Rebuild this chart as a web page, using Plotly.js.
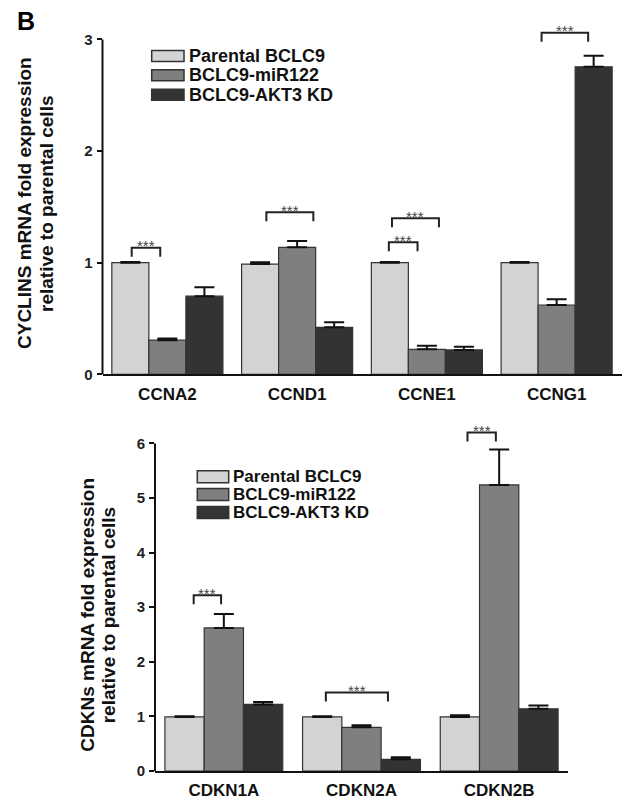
<!DOCTYPE html>
<html>
<head>
<meta charset="utf-8">
<script src="https://cdn.plot.ly/plotly-3.0.1.min.js"></script>
<style>html,body{margin:0;padding:0;background:#fff;}#chart{width:623px;height:801px;}</style>
</head>
<body>
<div id="chart"></div>
<script>
// ---------- data ----------
const seriesNames = ['Parental BCLC9', 'BCLC9-miR122', 'BCLC9-AKT3 KD'];

const categoriesTop = ['CCNA2', 'CCND1', 'CCNE1', 'CCNG1'];
const parentalTop = [1.0, 0.988, 1.0, 1.0];
const parentalTopErr = [0.006, 0.016, 0.006, 0.006];
const mirTop = [0.306, 1.138, 0.224, 0.621];
const mirTopErr = [0.014, 0.056, 0.032, 0.051];
const aktTop = [0.70, 0.421, 0.218, 2.756];
const aktTopErr = [0.08, 0.045, 0.029, 0.099];
const yTicksTop = [0, 1, 2, 3];

const categoriesBottom = ['CDKN1A', 'CDKN2A', 'CDKN2B'];
const parentalBottom = [0.99, 0.99, 0.99];
const parentalBottomErr = [0.012, 0.012, 0.03];
const mirBottom = [2.62, 0.80, 5.24];
const mirBottomErr = [0.255, 0.037, 0.65];
const aktBottom = [1.22, 0.214, 1.14];
const aktBottomErr = [0.045, 0.036, 0.06];
const yTicksBottom = [0, 1, 2, 3, 4, 5, 6];

// significance brackets: [category index, left offset, right offset, height]
const sigTop = [[0, -0.275, -0.055, 1.134], [1, -0.237, 0.125, 1.452], [2, -0.269, 0.093, 1.398], [2, -0.293, -0.072, 1.183], [3, -0.116, 0.243, 3.06]];
const sigBottom = [[0, -0.219, -0.02, 3.22], [1, -0.259, 0.192, 1.44], [2, -0.23, -0.024, 6.2]];
const sigLabel = '***';

const titleTop = ['CYCLINS mRNA fold expression', 'relative to parental cells'];
const titleBottom = ['CDKNs mRNA fold expression', 'relative to parental cells'];
const panelLabel = 'B';

// ---------- styling / layout ----------
const W = 623, H = 801;
const colors = ['#d3d3d3', '#7f7f7f', '#333333'];
const FONT = 'Arial, "Liberation Sans", Helvetica, sans-serif';
const px = x => x / W;
const py = y => 1 - y / H;

// panel geometry (pixels)
const T = {x0: 102.5, x1: 621.5, y0: 374.3, unit: 111.6, rmax: 3.12, axisTop: 3, leg: 9 / 111.6};
const B = {x0: 155, x1: 568, y0: 771, unit: 54.6, rmax: 6.4, axisTop: 6, leg: 9 / 54.6};

function bars(cats, vals, errs, xa, ya) {
  return vals.map((v, i) => ({
    type: 'bar', x: cats, y: v, name: seriesNames[i], xaxis: xa, yaxis: ya,
    marker: {color: colors[i], line: {color: '#333', width: 1.2}},
    error_y: {type: 'data', symmetric: false, array: errs[i], arrayminus: errs[i].map(() => 0),
              color: '#111', thickness: 2, width: 10},
    showlegend: false, hoverinfo: 'skip'
  }));
}

const data = [
  ...bars(categoriesTop, [parentalTop, mirTop, aktTop], [parentalTopErr, mirTopErr, aktTopErr], 'x', 'y'),
  ...bars(categoriesBottom, [parentalBottom, mirBottom, aktBottom], [parentalBottomErr, mirBottomErr, aktBottomErr], 'x2', 'y2')
];

const shapes = [];
const annotations = [];

function brackets(sig, xr, yr, leg) {
  sig.forEach(([c, a, b, h]) => {
    shapes.push({type: 'path', xref: xr, yref: yr,
      path: `M ${c + a},${h - leg} L ${c + a},${h} L ${c + b},${h} L ${c + b},${h - leg}`,
      line: {color: '#222', width: 2}});
    annotations.push({xref: xr, yref: yr, x: c + (a + b) / 2, y: h, text: sigLabel, showarrow: false,
      xanchor: 'center', yanchor: 'middle', yshift: 2, font: {family: FONT, size: 15, color: '#444'}});
  });
}
brackets(sigTop, 'x', 'y', T.leg);
brackets(sigBottom, 'x2', 'y2', B.leg);

// y axis lines (stop at last tick)
[T, B].forEach(g => {
  shapes.push({type: 'line', xref: 'paper', yref: 'paper', x0: px(g.x0), x1: px(g.x0),
    y0: py(g.y0), y1: py(g.y0 - g.axisTop * g.unit), line: {color: '#111', width: 2}});
});

// custom legends
function legend(x0, x1, x2, rows, half, fs) {
  rows.forEach((yc, i) => {
    shapes.push({type: 'rect', xref: 'paper', yref: 'paper', x0: px(x0), x1: px(x1), y0: py(yc + half), y1: py(yc - half),
      fillcolor: colors[i], line: {color: '#333', width: 1.5}});
    annotations.push({xref: 'paper', yref: 'paper', x: px(x2), y: py(yc), text: seriesNames[i], showarrow: false,
      xanchor: 'left', yanchor: 'middle', borderpad: 0,
      font: {family: FONT, size: fs, color: '#111', weight: 700}});
  });
}
legend(151.7, 184, 188, [56, 75.3, 94.7], 5.5, 18);
legend(197.3, 228.7, 232, [476.7, 494.5, 512.4], 6, 17);

// axis titles
function ytitle(lines, xs, yc) {
  lines.forEach((t, i) => annotations.push({xref: 'paper', yref: 'paper', x: px(xs[i]), y: py(yc), text: t,
    textangle: -90, showarrow: false, xanchor: 'center', yanchor: 'middle',
    font: {family: FONT, size: 19, color: '#111', weight: 700}}));
}
ytitle(titleTop, [25, 47], 203);
ytitle(titleBottom, [86.7, 108.3], 615);

annotations.push({xref: 'paper', yref: 'paper', x: px(26), y: py(21), text: panelLabel, showarrow: false,
  xanchor: 'center', yanchor: 'middle', font: {family: FONT, size: 25, color: '#000', weight: 700}});

function xaxis(g, cats) {
  return {domain: [px(g.x0), px(g.x1)], range: [-0.5, cats.length - 0.5], type: 'category',
    showline: true, linecolor: '#111', linewidth: 2, ticks: '', showgrid: false, zeroline: false,
    tickfont: {family: FONT, size: 17, color: '#111', weight: 700}, ticklabelstandoff: 3, fixedrange: true};
}
function yaxis(g, ticks, anchor) {
  return {domain: [py(g.y0), py(g.y0 - g.rmax * g.unit)], range: [0, g.rmax], anchor: anchor,
    showline: false, ticks: 'outside', ticklen: 5, tickwidth: 2, tickcolor: '#111',
    tickmode: 'array', tickvals: ticks, ticktext: ticks.map(String), showgrid: false, zeroline: false,
    tickfont: {family: FONT, size: 15, color: '#222', weight: 700}, ticklabelstandoff: 1, fixedrange: true};
}

const layout = {
  width: W, height: H, margin: {l: 0, r: 0, t: 0, b: 0},
  paper_bgcolor: '#fff', plot_bgcolor: '#fff',
  barmode: 'group', bargap: 0.144, bargroupgap: 0,
  showlegend: false,
  xaxis: Object.assign(xaxis(T, categoriesTop), {anchor: 'y'}),
  yaxis: yaxis(T, yTicksTop, 'x'),
  xaxis2: Object.assign(xaxis(B, categoriesBottom), {anchor: 'y2'}),
  yaxis2: yaxis(B, yTicksBottom, 'x2'),
  shapes: shapes, annotations: annotations
};

Plotly.newPlot('chart', data, layout, {displayModeBar: false, staticPlot: true});
</script>
</body>
</html>
